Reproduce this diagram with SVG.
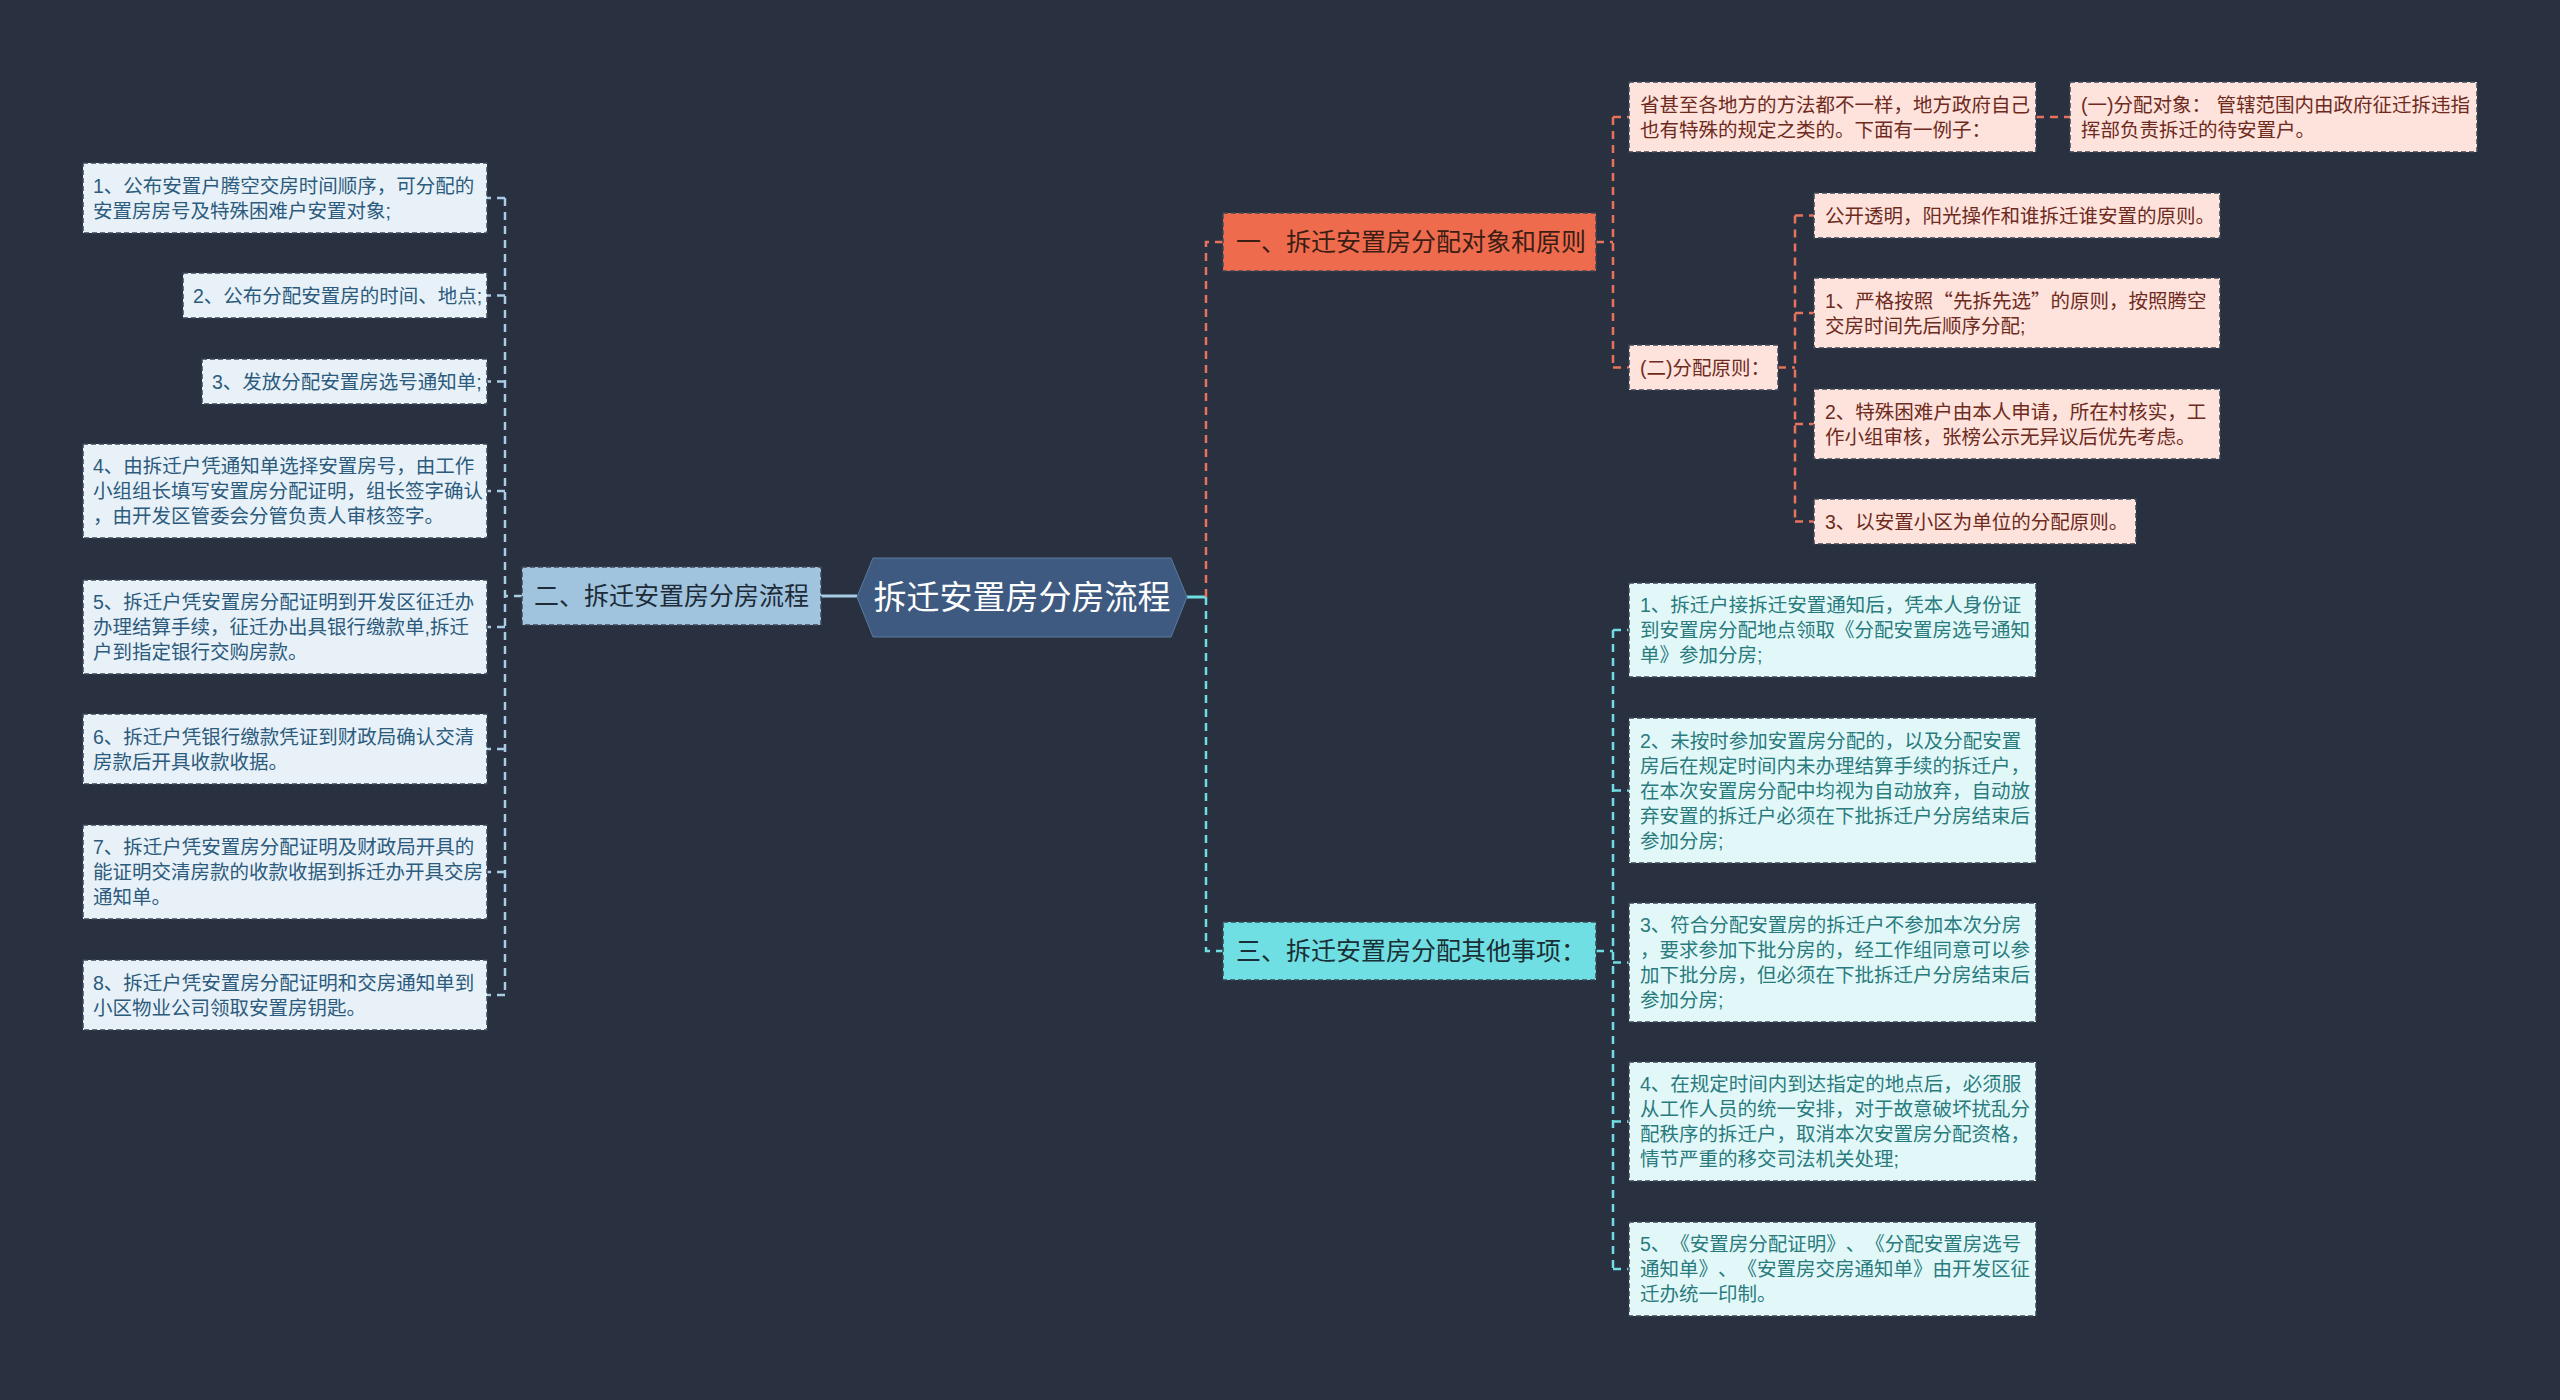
<svg xmlns="http://www.w3.org/2000/svg" width="2560" height="1400" viewBox="0 0 2560 1400">
<style>
text{font-family:"Liberation Sans","Noto Sans CJK SC",sans-serif;text-spacing-trim:space-all}
.q{font-family:"Noto Sans CJK SC",sans-serif}
.box{stroke:#3c4655;stroke-width:1.5;stroke-dasharray:5 3}
.lb{fill:#e8f1f8}
.lt{fill:#2c5b7d;font-size:19.5px}
.ob{fill:#fde3dc}
.ot{fill:#6e2a1c;font-size:19.5px}
.cb{fill:#e2f8f8}
.ct{fill:#2a7b7e;font-size:19.5px}
.h{font-size:25px}
.cl{fill:none;stroke-width:2.5;stroke-dasharray:8 6}
.cblue{stroke:#a8cce4}
.corg{stroke:#e8735a}
.ccyan{stroke:#6fdde2}
</style>
<rect width="2560" height="1400" fill="#293140"/>
<g id="connectors">
<line x1="821" y1="596" x2="857" y2="596" stroke="#a8cce4" stroke-width="3"/>
<path class="cl cblue" d="M522 596H505M505 198V995M505 198H487M505 295.5H487M505 381.5H487M505 491H487M505 627H487M505 749H487M505 872H487M505 995H487"/>
<line x1="1187" y1="597" x2="1206" y2="597" stroke="#6fdde2" stroke-width="3"/>
<path class="cl corg" d="M1206 597V242H1223"/>
<path class="cl ccyan" d="M1206 597V951H1223"/>
<path class="cl corg" d="M1596 242H1613M1613 117V367.5M1613 117H1629M1613 367.5H1629"/>
<path class="cl corg" d="M2036 117H2070"/>
<path class="cl corg" d="M1778 367.5H1795M1795 215.5V521.5M1795 215.5H1814M1795 313H1814M1795 424H1814M1795 521.5H1814"/>
<path class="cl ccyan" d="M1596 951H1613M1613 630V1269M1613 630H1629M1613 790.5H1629M1613 962.5H1629M1613 1121.5H1629M1613 1269H1629"/>
</g>
<g id="root">
<polygon points="857,597 873,558 1171,558 1187,597 1171,637 873,637" fill="#3e5a80" stroke="#5a7aa0" stroke-width="1"/>
<text x="1022" y="609" font-size="33" fill="#ffffff" text-anchor="middle">拆迁安置房分房流程</text>
</g>
<g id="n2">
<rect class="box" x="522" y="567" width="299" height="58" fill="#a0c4de"/>
<text class="h" x="534" y="605" fill="#1e2b38">二、拆迁安置房分房流程</text>
</g>
<g id="n1">
<rect class="box" x="1223" y="213" width="373" height="58" fill="#ee6c4d"/>
<text class="h" x="1236" y="251" fill="#3b1d14">一、拆迁安置房分配对象和原则</text>
</g>
<g id="n3">
<rect class="box" x="1223" y="922" width="373" height="58" fill="#6fdfe3"/>
<text class="h" x="1236" y="960" fill="#1a2e35">三、拆迁安置房分配其他事项：</text>
</g>
<g id="l1"><rect class="box lb" x="83" y="163" width="404" height="70"/>
<text class="lt" x="93" y="193">1、公布安置户腾空交房时间顺序，可分配的</text>
<text class="lt" x="93" y="218">安置房房号及特殊困难户安置对象;</text></g>
<g id="l2"><rect class="box lb" x="183" y="273" width="304" height="45"/>
<text class="lt" x="193" y="303">2、公布分配安置房的时间、地点;</text></g>
<g id="l3"><rect class="box lb" x="202" y="359" width="285" height="45"/>
<text class="lt" x="212" y="389">3、发放分配安置房选号通知单;</text></g>
<g id="l4"><rect class="box lb" x="83" y="444" width="404" height="94"/>
<text class="lt" x="93" y="473">4、由拆迁户凭通知单选择安置房号，由工作</text>
<text class="lt" x="93" y="498">小组组长填写安置房分配证明，组长签字确认</text>
<text class="lt" x="93" y="523">，由开发区管委会分管负责人审核签字。</text></g>
<g id="l5"><rect class="box lb" x="83" y="580" width="404" height="94"/>
<text class="lt" x="93" y="609">5、拆迁户凭安置房分配证明到开发区征迁办</text>
<text class="lt" x="93" y="634">办理结算手续，征迁办出具银行缴款单,拆迁</text>
<text class="lt" x="93" y="659">户到指定银行交购房款。</text></g>
<g id="l6"><rect class="box lb" x="83" y="714" width="404" height="70"/>
<text class="lt" x="93" y="744">6、拆迁户凭银行缴款凭证到财政局确认交清</text>
<text class="lt" x="93" y="769">房款后开具收款收据。</text></g>
<g id="l7"><rect class="box lb" x="83" y="825" width="404" height="94"/>
<text class="lt" x="93" y="854">7、拆迁户凭安置房分配证明及财政局开具的</text>
<text class="lt" x="93" y="879">能证明交清房款的收款收据到拆迁办开具交房</text>
<text class="lt" x="93" y="904">通知单。</text></g>
<g id="l8"><rect class="box lb" x="83" y="960" width="404" height="70"/>
<text class="lt" x="93" y="990">8、拆迁户凭安置房分配证明和交房通知单到</text>
<text class="lt" x="93" y="1015">小区物业公司领取安置房钥匙。</text></g>
<g id="o1"><rect class="box ob" x="1629" y="82" width="407" height="70"/>
<text class="ot" x="1640" y="112">省甚至各地方的方法都不一样，地方政府自己</text>
<text class="ot" x="1640" y="137">也有特殊的规定之类的。下面有一例子：</text></g>
<g id="o2"><rect class="box ob" x="2070" y="82" width="407" height="70"/>
<text class="ot" x="2081" y="112">(一)分配对象： 管辖范围内由政府征迁拆违指</text>
<text class="ot" x="2081" y="137">挥部负责拆迁的待安置户。</text></g>
<g id="o3"><rect class="box ob" x="1629" y="345" width="149" height="45"/>
<text class="ot" x="1640" y="375">(二)分配原则：</text></g>
<g id="o4"><rect class="box ob" x="1814" y="193" width="406" height="45"/>
<text class="ot" x="1825" y="223">公开透明，阳光操作和谁拆迁谁安置的原则。</text></g>
<g id="o5"><rect class="box ob" x="1814" y="278" width="406" height="70"/>
<text class="ot" x="1825" y="308">1、严格按照<tspan class="q">“</tspan>先拆先选<tspan class="q">”</tspan>的原则，按照腾空</text>
<text class="ot" x="1825" y="333">交房时间先后顺序分配;</text></g>
<g id="o6"><rect class="box ob" x="1814" y="389" width="406" height="70"/>
<text class="ot" x="1825" y="419">2、特殊困难户由本人申请，所在村核实，工</text>
<text class="ot" x="1825" y="444">作小组审核，张榜公示无异议后优先考虑。</text></g>
<g id="o7"><rect class="box ob" x="1814" y="499" width="322" height="45"/>
<text class="ot" x="1825" y="529">3、以安置小区为单位的分配原则。</text></g>
<g id="c1"><rect class="box cb" x="1629" y="583" width="407" height="94"/>
<text class="ct" x="1640" y="612">1、拆迁户接拆迁安置通知后，凭本人身份证</text>
<text class="ct" x="1640" y="637">到安置房分配地点领取《分配安置房选号通知</text>
<text class="ct" x="1640" y="662">单》参加分房;</text></g>
<g id="c2"><rect class="box cb" x="1629" y="718" width="407" height="145"/>
<text class="ct" x="1640" y="748">2、未按时参加安置房分配的，以及分配安置</text>
<text class="ct" x="1640" y="773">房后在规定时间内未办理结算手续的拆迁户，</text>
<text class="ct" x="1640" y="798">在本次安置房分配中均视为自动放弃，自动放</text>
<text class="ct" x="1640" y="823">弃安置的拆迁户必须在下批拆迁户分房结束后</text>
<text class="ct" x="1640" y="848">参加分房;</text></g>
<g id="c3"><rect class="box cb" x="1629" y="903" width="407" height="119"/>
<text class="ct" x="1640" y="932">3、符合分配安置房的拆迁户不参加本次分房</text>
<text class="ct" x="1640" y="957">，要求参加下批分房的，经工作组同意可以参</text>
<text class="ct" x="1640" y="982">加下批分房，但必须在下批拆迁户分房结束后</text>
<text class="ct" x="1640" y="1007">参加分房;</text></g>
<g id="c4"><rect class="box cb" x="1629" y="1062" width="407" height="119"/>
<text class="ct" x="1640" y="1091">4、在规定时间内到达指定的地点后，必须服</text>
<text class="ct" x="1640" y="1116">从工作人员的统一安排，对于故意破坏扰乱分</text>
<text class="ct" x="1640" y="1141">配秩序的拆迁户，取消本次安置房分配资格，</text>
<text class="ct" x="1640" y="1166">情节严重的移交司法机关处理;</text></g>
<g id="c5"><rect class="box cb" x="1629" y="1222" width="407" height="94"/>
<text class="ct" x="1640" y="1251">5、《安置房分配证明》、《分配安置房选号</text>
<text class="ct" x="1640" y="1276">通知单》、《安置房交房通知单》由开发区征</text>
<text class="ct" x="1640" y="1301">迁办统一印制。</text></g>
</svg>
